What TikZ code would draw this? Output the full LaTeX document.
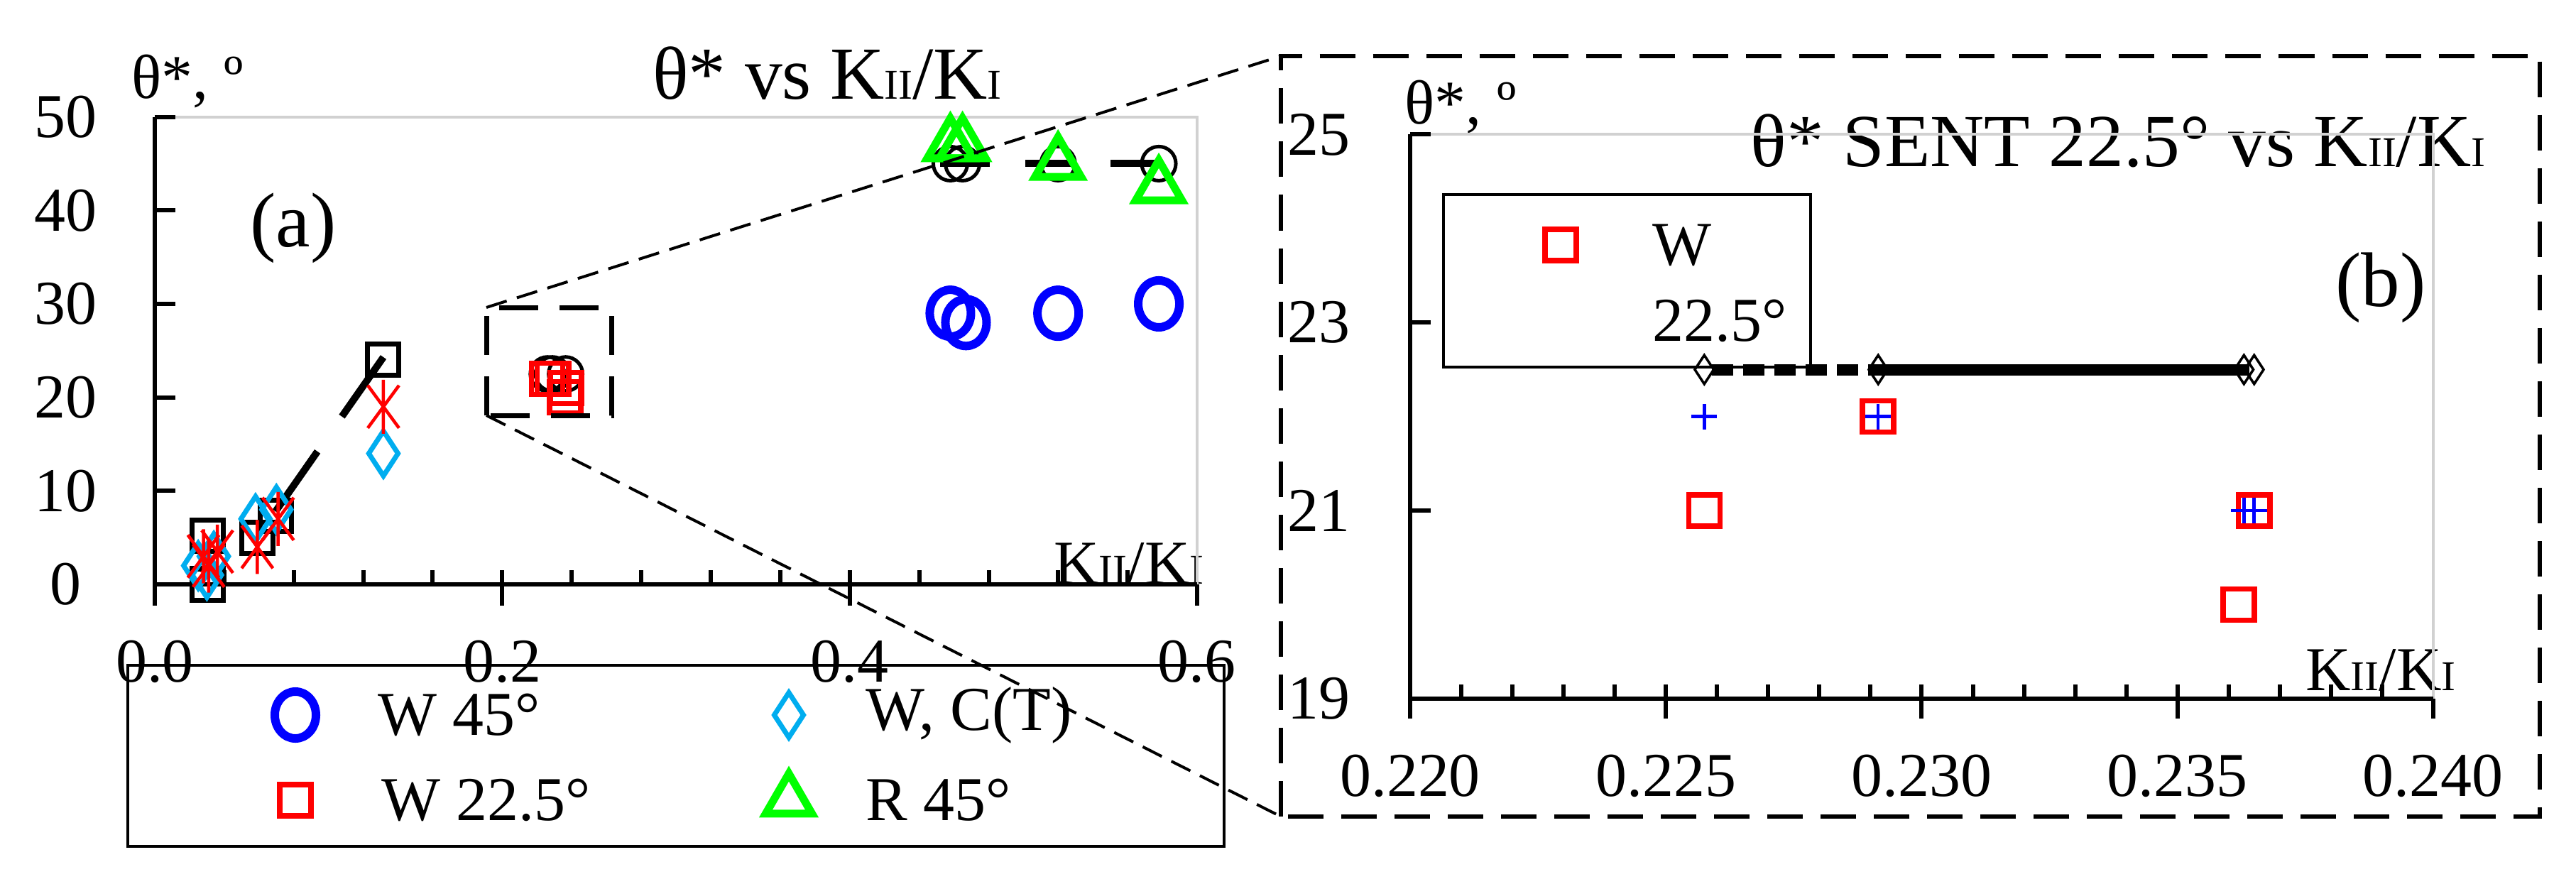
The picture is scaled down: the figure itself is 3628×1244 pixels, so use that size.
\documentclass[tikz,border=0pt]{standalone}
\usepackage{fontspec}
\setmainfont{Liberation Serif}
\usetikzlibrary{shapes.geometric}
\newcommand{\kk}{K{\fontsize{17pt}{17pt}\selectfont II}/K{\fontsize{17pt}{17pt}\selectfont I}}
\tikzset{
 tl/.style={font=\fontsize{25pt}{25pt}\selectfont,inner sep=0},
 tt/.style={font=\fontsize{30pt}{30pt}\selectfont,inner sep=0},
 ax/.style={line width=0.06cm},
 gr/.style={draw=black!18,line width=0.04cm},
 bc/.style={ellipse,draw=blue,line width=0.12cm,minimum width=0.58cm,minimum height=0.66cm,inner sep=0},
 kc/.style={circle,draw=black,line width=0.05cm,minimum size=0.48cm,inner sep=0},
 gt/.style={regular polygon,regular polygon sides=3,draw=green,line width=0.11cm,minimum size=0.75cm,inner sep=0},
 rs/.style={rectangle,draw=red,line width=0.075cm,minimum size=0.44cm,inner sep=0},
 ks/.style={rectangle,draw=black,line width=0.07cm,minimum size=0.44cm,inner sep=0},
 cd/.style={diamond,draw=cyan,line width=0.07cm,minimum width=0.44cm,minimum height=0.66cm,inner sep=0},
 kd/.style={diamond,draw=black,line width=0.035cm,minimum width=0.28cm,minimum height=0.42cm,inner sep=0},
 ast/.pic={\begin{scope}[x=1cm,y=1cm]\draw[red,line width=0.045cm] (-0.22,-0.3)--(0.22,0.3) (-0.22,0.3)--(0.22,-0.3) (0,-0.38)--(0,0.38);\end{scope}},
 bp/.pic={\begin{scope}[x=1cm,y=1cm]\draw[blue,line width=0.045cm] (-0.18,0)--(0.18,0) (0,-0.18)--(0,0.18);\end{scope}},
 zd/.style={line width=0.04cm,dash pattern=on 0.3cm off 0.15cm},
}
\begin{document}
\begin{tikzpicture}[x=0.01cm,y=0.01cm]
\useasboundingbox (0,0) rectangle (3628,1244);
% ---------- panel a ----------
\node[tt] (ta) at (1165,1141) {θ* vs \kk};
\node[tl] (ya) at (264,1129) {θ*, º};
\node[font=\fontsize{31pt}{31pt}\selectfont,inner sep=0] (la) at (413,923) {(a)};
\node[tl] (xa) at (1590,450) {\kk};
\begin{scope}[shift={(218,421)},x=24.45cm,y=0.1316cm]
 \draw[gr] (0,50) -- (0.6,50) -- (0.6,0);
 \draw[ax] (0,0) -- (0,50);
 \draw[ax] (0,0) -- (0.6,0);
 \foreach \v in {0,10,...,50}{\draw[ax] (0,\v) -- ++(0.29cm,0); \node[tl] (yl\v) at (-0.0514,\v) {\v};}
 \foreach \u [count=\i] in {0.0,0.2,0.4,0.6}{\draw[ax] (\u,0) -- ++(0,-0.3cm); \node[tl] (xl\i) at (\u,-8.3) {\u};}
 \foreach \u in {0.04,0.08,...,0.57}{\draw[ax] (\u,0) -- ++(0,0.2cm);}
 % lines
 \draw[line width=0.1cm,dash pattern=on 1.03cm off 0.6cm] (0.0695,7.8) -- (0.1316,24.3);
 \draw[line width=0.1cm,dash pattern=on 0.7cm off 0.5cm] (0.452,45) -- (0.578,45);
 % black
 \foreach \x/\y [count=\i] in {0.0305/0, 0.0305/5.2, 0.059/5, 0.0695/7.3, 0.1316/24}{\node[ks] (ks\i) at (\x,\y) {};}
 \foreach \x/\y [count=\i] in {0.458/45, 0.465/45, 0.52/45, 0.578/45, 0.226/22.5, 0.229/22.5, 0.2365/22.5}{\node[kc] (kc\i) at (\x,\y) {};}
 % cyan
 \foreach \x/\y [count=\i] in {0.025/2, 0.03/1, 0.034/3, 0.058/7, 0.07/8, 0.1316/14}{\node[cd] (cd\i) at (\x,\y) {};}
 % red ast
 \foreach \x/\y in {0.028/3, 0.031/2, 0.036/3.5, 0.059/4, 0.071/7, 0.1316/19}{\pic at (\x,\y) {ast};}
 \foreach \x/\y [count=\i] in {0.2258/22, 0.2292/22, 0.2366/21, 0.2363/20}{\node[rs] (rsa\i) at (\x,\y) {};}
 % green
 \foreach \x/\y [count=\i] in {0.458/47, 0.465/47, 0.52/45, 0.578/42.5}{\node[gt] (gt\i) at (\x,\y) {};}
 % blue
 \foreach \x/\y [count=\i] in {0.458/29, 0.467/28, 0.52/29, 0.578/30}{\node[bc] (bc\i) at (\x,\y) {};}
\end{scope}
% legend a
\draw[line width=0.04cm] (180,52) rectangle (1724,307);
\node[bc] (lb) at (416,237) {};
\node[tl,anchor=west] (lbt) at (532,237) {W 45°};
\node[cd] (lc) at (1111,237) {};
\node[tl,anchor=west] (lct) at (1219,237) {W, C(T)};
\node[rs] (lr) at (416,117) {};
\node[tl,anchor=west] (lrt) at (537,117) {W 22.5°};
\node[gt] (lg) at (1111,117) {};
\node[tl,anchor=west] (lgt) at (1219,117) {R 45°};
% zoom boxes
\draw[line width=0.07cm,dash pattern=on 0.55cm off 0.3cm] (685,659) rectangle (861,811);
\coordinate (s1) at (685,811); \coordinate (s2) at (685,659);
\draw[line width=0.06cm,dash pattern=on 0.5cm off 0.25cm] (1804,94) rectangle (3577,1165);
\coordinate (b1) at (1804,1165); \coordinate (b2) at (1804,94);
\draw[zd] (s1) -- (b1);
\draw[zd] (s2) -- (b2);
% ---------- panel b ----------
\node[tt,anchor=east] (tb) at (3501,1046) {θ* SENT 22.5° vs \kk};
\node[tl] (yb) at (2057,1093) {θ*, º};
\node[font=\fontsize{31pt}{31pt}\selectfont,inner sep=0] (lbb) at (3353,839) {(b)};
\node[tl] (xb) at (3353,300) {\kk};
\begin{scope}[shift={(1986,260)},x=0.72cm,y=1.3235cm]
 \draw[gr] (0,6) -- (20,6) -- (20,0);
 \draw[ax] (0,0) -- (0,6);
 \draw[ax] (0,0) -- (20,0);
 \foreach \v/\t in {0/19,2/21,4/23,6/25}{\draw[ax] (0,\v) -- ++(0.29cm,0); \node[tl] (ybl\t) at (-1.79,\v) {\t};}
 \foreach \u/\t in {0/0.220,5/0.225,10/0.230,15/0.235,20/0.240}{\draw[ax] (\u,0) -- ++(0,-0.28cm); \node[tl] (xbl\u) at (\u,-0.82) {\t};}
 \foreach \u in {1,...,19}{\draw[ax] (\u,0) -- ++(0,0.2cm);}
 \draw[line width=0.16cm,dash pattern=on 0.3cm off 0.14cm] (5.9,3.5) -- (9.2,3.5);
 \draw[line width=0.16cm] (9.2,3.5) -- (16.4,3.5);
 \foreach \x [count=\i] in {5.75,9.15,16.3,16.5}{\node[kd] (kd\i) at (\x,3.5) {};}
 \foreach \x/\y [count=\i] in {5.75/2, 9.15/3, 16.5/2, 16.2/1}{\node[rs] (rsb\i) at (\x,\y) {};}
 \foreach \x/\y in {5.75/3, 9.15/3, 16.3/2, 16.5/2}{\pic at (\x,\y) {bp};}
\end{scope}
% legend b
\draw[line width=0.04cm] (2033,727) rectangle (2550,970);
\node[rs] (lbr) at (2198,899) {};
\node[tl] (lbw) at (2369,899) {W};
\node[tl] (lbn) at (2422,792) {22.5°};
\end{tikzpicture}
\end{document}
